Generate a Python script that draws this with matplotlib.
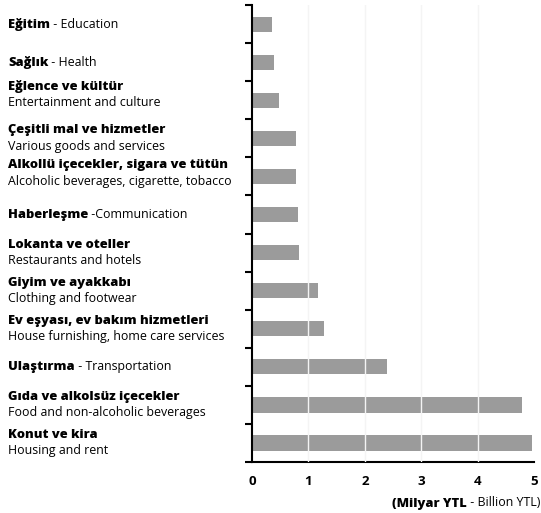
import numpy as np
import matplotlib
matplotlib.use("Agg")
from matplotlib import pyplot as plt

plt.rcParams['font.family'] = ['Open Sans', 'DejaVu Sans']

turkish = [
    "Eğitim", "Sağlık", "Eğlence ve kültür", "Çeşitli mal ve hizmetler",
    "Alkollü içecekler, sigara ve tütün", "Haberleşme", "Lokanta ve oteller",
    "Giyim ve ayakkabı", "Ev eşyası, ev bakım hizmetleri", "Ulaştırma",
    "Gıda ve alkolsüz içecekler", "Konut ve kira",
]
english = [
    "Education", "Health", "Entertainment and culture", "Various goods and services",
    "Alcoholic beverages, cigarette, tobacco", "Communication", "Restaurants and hotels",
    "Clothing and footwear", "House furnishing, home care services", "Transportation",
    "Food and non-alcoholic beverages", "Housing and rent",
]
# True -> "Turkish - English" on one line
one_line = [True, True, False, False, False, True, False, False, False, True, False, False]
values = [0.35, 0.39, 0.48, 0.78, 0.78, 0.82, 0.84, 1.17, 1.28, 2.40, 4.78, 4.96]

# small upward nudges (pixels) of some labels, as in the original layout
label_nudge = {2: 6, 4: 3}

fig = plt.figure(figsize=(5.41, 5.13), dpi=100)
ax = fig.add_axes([0.466, 0.0994, 0.521, 0.8906])

y = np.arange(len(values))
ax.barh(y, values, height=0.4, color='#9b9b9b', zorder=2)
for gx in [1, 2, 3, 4]:
    ax.axvline(gx, color='#f4f4f4', lw=1.0, zorder=3)

ax.set_xlim(0, 5)
ax.set_ylim(len(values) - 0.5, -0.5)
ax.set_yticks(np.arange(-0.5, len(values), 1))
ax.set_yticklabels([])
ax.tick_params(axis='y', length=5, width=1.5, color='black')
ax.set_xticks(range(6))
ax.set_xticklabels([str(i) for i in range(6)], fontweight='bold', fontsize=9.5)
ax.tick_params(axis='x', length=0, pad=9)
ax.set_xticks([5], minor=True)
ax.tick_params(axis='x', which='minor', length=4, width=1.5)
for s in ['top', 'right']:
    ax.spines[s].set_visible(False)
for s in ['left', 'bottom']:
    ax.spines[s].set_linewidth(1.5)

fs = 8.9
fsb = 9.3
x0 = 8 / 541
H = fig.bbox.height
for i, (tr, en) in enumerate(zip(turkish, english)):
    yc = (ax.transData.transform((0, i))[1] + label_nudge.get(i, 0)) / H
    if one_line[i]:
        sep = " -" if tr == "Haberleşme" else " - "
        tb = fig.text(x0, yc, tr, fontweight='heavy', fontsize=fsb, va='center', ha='left')
        ax.annotate(sep + en, xy=(1, 0), xycoords=tb, va='bottom', ha='left', fontsize=fs,
                    annotation_clip=False)
    else:
        dy = 8 / H
        fig.text(x0, yc + dy, tr, fontweight='heavy', fontsize=fsb, va='center', ha='left')
        fig.text(x0, yc - dy, en, fontsize=fs, va='center', ha='left')

tr_unit = fig.text(540 / 541, 1 - 503 / 513, " - Billion YTL)", fontsize=fs, va='center', ha='right')
ax.annotate("(Milyar YTL", xy=(0, 0), xycoords=tr_unit, va='bottom', ha='right',
            fontsize=fsb, fontweight='heavy', annotation_clip=False)

fig.savefig("out.png", dpi=100)
